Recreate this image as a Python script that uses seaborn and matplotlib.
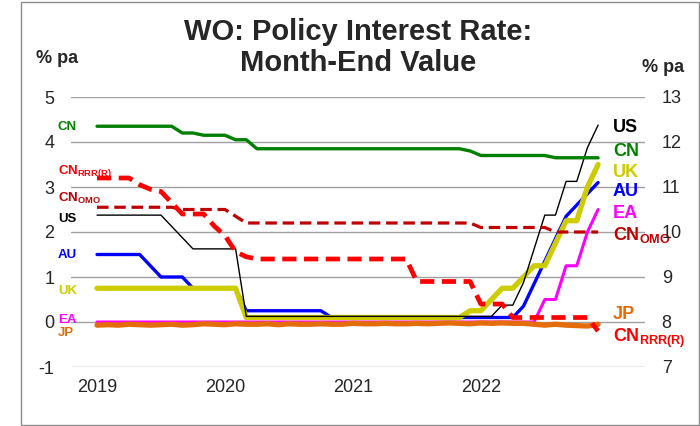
import numpy as np
import pandas as pd
import matplotlib
matplotlib.use('Agg')
import matplotlib.pyplot as plt
import seaborn as sns
from matplotlib.patches import Rectangle

# month-end values, Jan 2019 .. Dec 2022
months = pd.date_range('2019-01-01', '2022-12-01', freq='MS')
years = ['2019', '2020', '2021', '2022']

cn = [4.35] * 8 + [4.20, 4.20] + [4.15] * 3 + [4.05] * 2 + [3.85] * 20 + [3.80] + [3.70] * 7 + [3.65] * 5
us = [2.375] * 7 + [2.125, 1.875] + [1.625] * 5 + [0.125] * 24 + \
     [0.375, 0.375, 0.875, 1.625, 2.375, 2.375, 3.125, 3.125, 3.875, 4.375]
au = [1.5] * 5 + [1.25] + [1.0] * 3 + [0.75] * 5 + [0.25] * 8 + [0.10] * 18 + \
     [0.35, 0.85, 1.35, 1.85, 2.35, 2.60, 2.85, 3.10]
uk = [0.75] * 14 + [0.10] * 21 + [0.25, 0.25, 0.50, 0.75, 0.75, 1.00, 1.25, 1.25, 1.75, 2.25, 2.25, 3.00, 3.50]
ea = [0.0] * 42 + [0.5, 0.5, 1.25, 1.25, 2.0, 2.5]
jp = [-0.07, -0.06, -0.07, -0.05, -0.06, -0.07, -0.06, -0.05, -0.07, -0.06, -0.04, -0.05,
      -0.06, -0.04, -0.05, -0.05, -0.04, -0.06, -0.04, -0.05, -0.05, -0.04, -0.05, -0.05,
      -0.03, -0.04, -0.04, -0.03, -0.04, -0.04, -0.03, -0.04, -0.03, -0.02, -0.03, -0.04,
      -0.02, -0.03, -0.02, -0.03, -0.03, -0.05, -0.07, -0.05, -0.07, -0.08, -0.09, -0.05]
cn_omo = [2.55] * 8 + [2.50] * 5 + [2.35] + [2.20] * 22 + [2.10] * 7 + [2.00] * 5
# right axis
cn_rrr = [11.2] * 4 + [11.05, 10.95, 10.9, 10.65] + [10.4] * 3 + [10.13, 9.92, 9.56, 9.45] + \
         [9.4] * 15 + [8.9] * 6 + [8.4] * 3 + [8.1] * 8 + [7.8]

mi = np.arange(len(months))
df = pd.DataFrame({'m': mi, 'CN': cn, 'US': us, 'AU': au, 'UK': uk, 'EA': ea, 'JP': jp,
                   'CN_OMO': cn_omo, 'CN_RRR': cn_rrr})

sns.set_style('white')
plt.rcParams['font.family'] = ['Liberation Sans', 'DejaVu Sans']
plt.rcParams['mathtext.fontset'] = 'custom'
plt.rcParams['mathtext.rm'] = 'Liberation Sans'
plt.rcParams['mathtext.bf'] = 'Liberation Sans:bold'
plt.rcParams['axes.unicode_minus'] = False

fig = plt.figure(figsize=(7, 4.26), dpi=100)
ax = fig.add_axes([71 / 700, 59 / 426, 574 / 700, 270 / 426])
ax2 = ax.twinx()

GREEN = '#008000'
YEL = '#CCCC00'
BLUE = '#0000FF'
MAG = '#FF00FF'
ORNG = '#E46C0A'
RED = '#FF0000'
DRED = '#C00000'

# order: EA under JP, UK over AU, US over UK
sns.lineplot(data=df, x='m', y='EA', ax=ax, color=MAG, lw=2.2, solid_capstyle='round')
sns.lineplot(data=df, x='m', y='JP', ax=ax, color=ORNG, lw=3.8, solid_capstyle='round')
sns.lineplot(data=df, x='m', y='AU', ax=ax, color=BLUE, lw=2.4, solid_capstyle='round')
sns.lineplot(data=df, x='m', y='UK', ax=ax, color=YEL, lw=3.8, solid_capstyle='round')
sns.lineplot(data=df, x='m', y='US', ax=ax, color='black', lw=1.0)
sns.lineplot(data=df, x='m', y='CN', ax=ax, color=GREEN, lw=2.4, solid_capstyle='round')
sns.lineplot(data=df, x='m', y='CN_OMO', ax=ax, color=DRED, lw=2.3, linestyle=(0, (3.6, 1.8)))
sns.lineplot(data=df, x='m', y='CN_RRR', ax=ax2, color=RED, lw=3.4, linestyle=(0, (3.0, 1.6)))

ax.set_xlim(-2.44, 51.4)
ax.set_ylim(-1, 5)
ax2.set_ylim(7, 13)
ax.set_yticks(range(-1, 6))
ax2.set_yticks(range(7, 14))
ax.set_xticks([0, 12, 24, 36])
ax.set_xticklabels(years)
for a in (ax, ax2):
    a.set_xlabel('')
    a.set_ylabel('')
    for s in a.spines.values():
        s.set_visible(False)
ax.grid(axis='y', color='#A0A0A0', lw=1)
ax.grid(axis='x', visible=False)
ax2.grid(False)
ax.set_axisbelow(True)
ax.tick_params(axis='y', length=0, labelsize=13, pad=12)
ax.tick_params(axis='x', length=0, labelsize=13, pad=9)
ax2.tick_params(axis='y', length=0, labelsize=13, pad=12)

# series labels, left side (left-axis units)
left_labels = [('CN', GREEN, 4.27), (r'$\mathbf{CN}_{\mathbf{RRR(R)}}$', RED, 3.29),
               (r'$\mathbf{CN}_{\mathbf{OMO}}$', DRED, 2.67), ('US', 'black', 2.22),
               ('AU', BLUE, 1.42), ('UK', YEL, 0.62), ('EA', MAG, -0.02), ('JP', ORNG, -0.31)]
for txt, col, yv in left_labels:
    ax.text(-3.66, yv, txt, color=col, fontsize=9.5, fontweight='bold', va='baseline', ha='left')

right_labels = [('US', 'black', 4.23), ('CN', GREEN, 3.70), ('UK', YEL, 3.23), ('AU', BLUE, 2.81),
                ('EA', MAG, 2.32), (r'$\mathbf{CN}_{\mathbf{OMO}}$', DRED, 1.83), ('JP', ORNG, 0.06),
                (r'$\mathbf{CN}_{\mathbf{RRR(R)}}$', RED, -0.44)]
for txt, col, yv in right_labels:
    ax.text(48.4, yv, txt, color=col, fontsize=13, fontweight='bold', va='baseline', ha='left', zorder=5)

fig.text(358 / 700, 1 - 40 / 426, 'WO: Policy Interest Rate:', ha='center', va='baseline',
         fontsize=21, fontweight='bold')
fig.text(358 / 700, 1 - 71 / 426, 'Month-End Value', ha='center', va='baseline',
         fontsize=21, fontweight='bold')
fig.text(36 / 700, 1 - 63 / 426, '% pa', ha='left', va='baseline', fontsize=13, fontweight='bold')
fig.text(642 / 700, 1 - 72 / 426, '% pa', ha='left', va='baseline', fontsize=13, fontweight='bold')

fig.patches.append(Rectangle((20.5 / 700, 1.5 / 426), 678 / 700, 423 / 426, transform=fig.transFigure,
                             fill=False, edgecolor='#8C8C8C', lw=1))

fig.savefig('out.png', dpi=100)
